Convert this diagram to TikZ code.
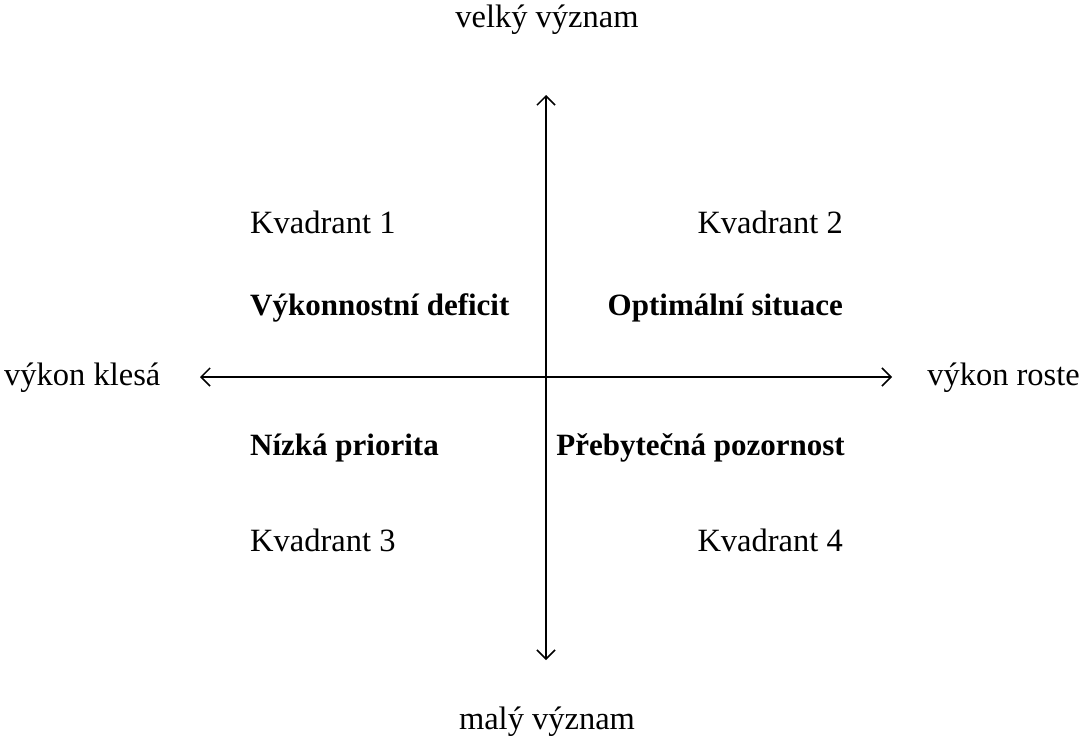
\documentclass[tikz,border=0pt]{standalone}
\usepackage{fontspec}
\setmainfont{Liberation Serif}
\usetikzlibrary{arrows.meta}
\begin{document}
\begin{tikzpicture}[x=1pt,y=-1pt,
  lbl/.style={inner sep=0pt,font=\fontsize{32.5}{38}\selectfont},
  blbl/.style={inner sep=0pt,font=\fontsize{31}{37}\selectfont\bfseries},
  axis/.style={line width=1.5pt,-{Straight Barb[length=9pt,width=18pt,line width=1.5pt]}}]
\useasboundingbox (0,0) rectangle (1084,745);
\coordinate (top) at (546,95);
\coordinate (bot) at (546,660);
\coordinate (left) at (200,377);
\coordinate (right) at (892,377);
\coordinate (c) at (546,377);
\draw[axis] (c) -- (top);
\draw[axis] (c) -- (bot);
\draw[axis] (c) -- (left);
\draw[axis] (c) -- (right);
\node[lbl] (vv) at (547,20) {velký význam};
\node[lbl] (mv) at (547,722) {malý význam};
\node[lbl,anchor=west] (vk) at (4,378) {výkon klesá};
\node[lbl,anchor=east] (vr) at (1080,378) {výkon roste};
\node[lbl,anchor=west] (k1) at (250,222) {Kvadrant 1};
\node[lbl,anchor=east] (k2) at (843,222) {Kvadrant 2};
\node[blbl,anchor=west] (d1) at (250,308) {Výkonnostní deficit};
\node[blbl,anchor=east] (d2) at (843,308) {Optimální situace};
\node[blbl,anchor=west] (d3) at (250,448) {Nízká priorita};
\node[blbl,anchor=east] (d4) at (845,448) {Přebytečná pozornost};
\node[lbl,anchor=west] (k3) at (250,540) {Kvadrant 3};
\node[lbl,anchor=east] (k4) at (843,540) {Kvadrant 4};
\end{tikzpicture}
\end{document}
